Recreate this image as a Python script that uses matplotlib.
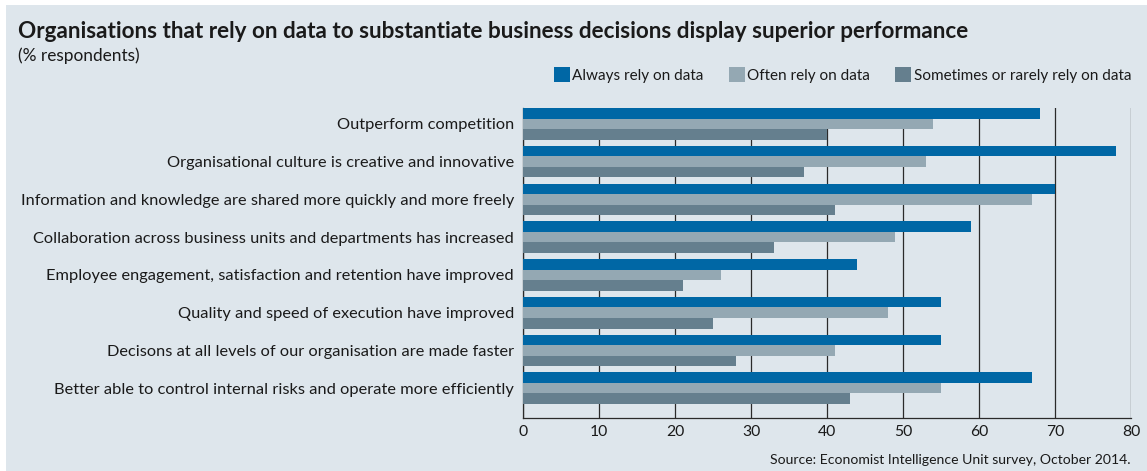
import numpy as np
import matplotlib.pyplot as plt
from matplotlib.patches import Rectangle, Patch

# Survey outcomes, top to bottom as drawn
categories = [
    "Outperform competition",
    "Organisational culture is creative and innovative",
    "Information and knowledge are shared more quickly and more freely",
    "Collaboration across business units and departments has increased",
    "Employee engagement, satisfaction and retention have improved",
    "Quality and speed of execution have improved",
    "Decisons at all levels of our organisation are made faster",
    "Better able to control internal risks and operate more efficiently",
]
always = [68, 78, 70, 59, 44, 55, 55, 67]
often = [54, 53, 67, 49, 26, 48, 41, 55]
sometimes = [40, 37, 41, 33, 21, 25, 28, 43]

series_names = ["Always rely on data", "Often rely on data",
                "Sometimes or rarely rely on data"]
colors = ["#0067a5", "#94a8b3", "#657f8e"]
x_ticks = [0, 10, 20, 30, 40, 50, 60, 70, 80]

BG = "#dee6ec"
TEXT = "#1a1a1a"
W, H = 1147, 471

plt.rcParams['font.family'] = ['Lato', 'DejaVu Sans']

fig = plt.figure(figsize=(W / 100, H / 100), dpi=100)
fig.patch.set_facecolor("white")
# shaded panel behind everything, with a thin white margin top and left
fig.patches.append(Rectangle((6 / W, 0), 1 - 6 / W, 1 - 5 / H,
                             transform=fig.transFigure, facecolor=BG,
                             edgecolor="none", zorder=-10))

ax = fig.add_axes([523 / W, 1 - 418 / H, (1131 - 523) / W, (418 - 108) / H])
ax.set_facecolor(BG)

h = 0.28
y = np.arange(len(categories))
for vals, off, col in zip([always, often, sometimes], [-h, 0, h], colors):
    ax.barh(y + off, vals, height=h, color=col, zorder=3)

ax.set_xlim(0, 80)
ax.set_ylim(len(categories) - 1 + 1.5 * h + 0.37, -1.5 * h)
ax.set_xticks(x_ticks)
ax.set_yticks(y)
ax.set_yticklabels(categories, fontsize=11.8, color=TEXT)
ax.tick_params(axis='y', length=0, pad=6.5)
ax.tick_params(axis='x', length=0, pad=5, labelsize=11.3, labelcolor=TEXT)

ax.grid(axis='x', color="#2a2a2a", linewidth=0.9, zorder=1)
ax.grid(axis='y', visible=False)
for side in ['top', 'right']:
    ax.spines[side].set_visible(False)
for side in ['left', 'bottom']:
    ax.spines[side].set_color("#2a2a2a")
    ax.spines[side].set_linewidth(0.9)

fig.text(18 / W, 1 - 32 / H,
         "Organisations that rely on data to substantiate business decisions display superior performance",
         fontsize=16.2, fontweight='bold', color=TEXT, va='center', ha='left')
fig.text(18 / W, 1 - 56 / H, "(% respondents)", fontsize=12.4, color=TEXT,
         va='center', ha='left')

handles = [Patch(facecolor=c, edgecolor='none') for c in colors]
leg = fig.legend(handles, series_names, loc='center right',
                 bbox_to_anchor=(1131 / W, 1 - 75 / H), ncol=3, frameon=False,
                 fontsize=11, handlelength=1.05, handleheight=1.05,
                 handletextpad=0.15, columnspacing=1.65, borderaxespad=0,
                 borderpad=0)
for t in leg.get_texts():
    t.set_color(TEXT)

fig.text(1131 / W, 1 - 460 / H,
         "Source: Economist Intelligence Unit survey, October 2014.",
         fontsize=10.1, color=TEXT, va='center', ha='right')

fig.savefig("out.png", dpi=100, facecolor=fig.get_facecolor())
